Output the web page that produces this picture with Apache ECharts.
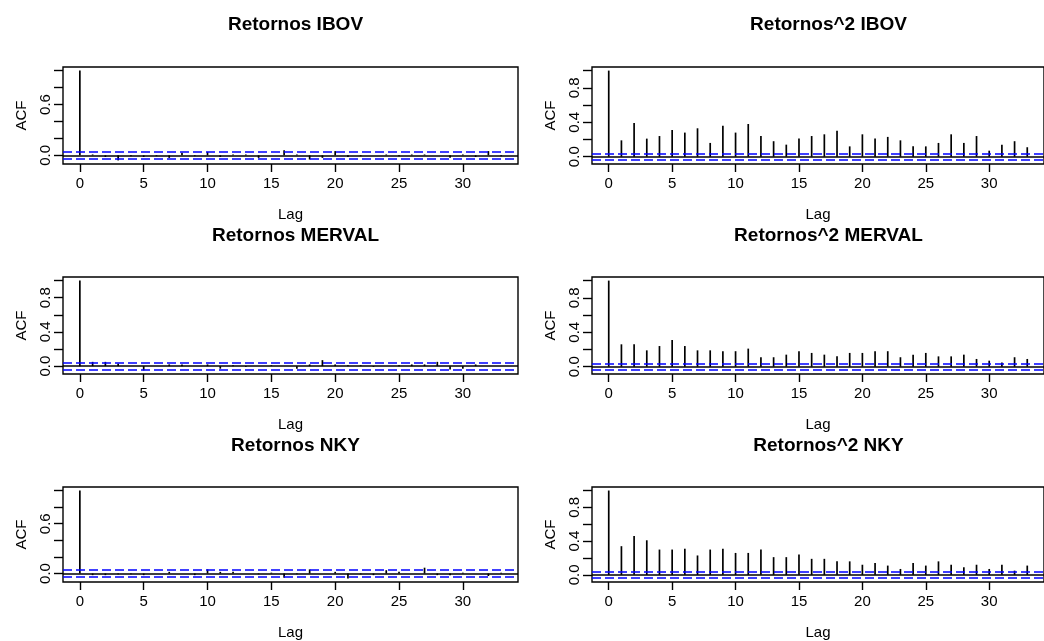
<!DOCTYPE html>
<html>
<head>
<meta charset="utf-8">
<script src="https://cdn.jsdelivr.net/npm/echarts@6/dist/echarts.min.js"></script>
<style>
html,body{margin:0;padding:0;background:#fff;}
#chart{width:1044px;height:641px;}
</style>
</head>
<body>
<div id="chart"></div>
<script>
// ---- data ----
var lags = [0,1,2,3,4,5,6,7,8,9,10,11,12,13,14,15,16,17,18,19,20,21,22,23,24,25,26,27,28,29,30,31,32,33];
var titles = ["Retornos IBOV","Retornos^2 IBOV","Retornos MERVAL","Retornos^2 MERVAL","Retornos NKY","Retornos^2 NKY"];
var acfIbov = [1,0.01,-0.02,-0.06,-0.01,-0.02,-0.01,-0.03,0.03,-0.01,0.04,-0.02,0.01,0.01,-0.03,0.00,0.06,0.01,-0.05,-0.03,0.05,-0.02,-0.01,0.00,0.01,-0.01,0.01,0.01,0.00,-0.03,0.01,-0.02,0.05,-0.01];
var acfIbov2 = [1,0.19,0.39,0.21,0.24,0.31,0.28,0.33,0.16,0.36,0.28,0.38,0.24,0.18,0.14,0.21,0.24,0.26,0.30,0.12,0.26,0.21,0.23,0.19,0.12,0.12,0.16,0.26,0.16,0.24,0.07,0.14,0.18,0.11];
var acfMerval = [1,0.05,0.05,0.03,0.00,-0.05,0.00,0.02,0.02,0.00,0.02,-0.03,0.01,-0.01,0.00,0.01,0.00,-0.03,0.02,0.07,0.02,0.01,0.01,-0.01,0.00,0.01,0.02,0.02,0.05,-0.04,-0.03,0.02,0.00,0.00];
var acfMerval2 = [1,0.26,0.26,0.19,0.24,0.31,0.24,0.19,0.19,0.18,0.18,0.21,0.11,0.11,0.14,0.18,0.16,0.14,0.12,0.16,0.16,0.18,0.18,0.11,0.14,0.16,0.12,0.12,0.14,0.09,0.07,0.05,0.11,0.09];
var acfNky = [1,-0.02,-0.02,-0.01,-0.01,-0.02,0.00,0.02,0.00,-0.02,0.05,0.02,0.02,0.00,-0.01,0.01,-0.05,-0.01,0.05,0.00,0.02,-0.06,-0.01,-0.02,0.04,0.02,0.00,0.07,-0.02,-0.02,0.01,0.00,-0.03,0.01];
var acfNky2 = [1,0.34,0.46,0.41,0.30,0.30,0.31,0.23,0.30,0.31,0.26,0.26,0.30,0.21,0.21,0.24,0.19,0.19,0.16,0.16,0.12,0.14,0.11,0.07,0.14,0.11,0.16,0.12,0.09,0.12,0.07,0.12,0.05,0.11];
var clim = 0.043;
var xTicks = [0,5,10,15,20,25,30];
var yTicks = [0,0.2,0.4,0.6,0.8,1.0];
var yLabelsA = [0,0.6];
var yLabelsB = [0,0.4,0.8];

var panels = [
  {acf: acfIbov,    labels: yLabelsA},
  {acf: acfIbov2,   labels: yLabelsB},
  {acf: acfMerval,  labels: yLabelsB},
  {acf: acfMerval2, labels: yLabelsB},
  {acf: acfNky,     labels: yLabelsA},
  {acf: acfNky2,    labels: yLabelsB}
];

// ---- layout ----
var font = 'Liberation Sans, Arial, sans-serif';
var rowTop = [67, 277, 487];
var gridH = 97;
var colLeft = [63, 592];
var colW = [455, 463];
var titleTop = [10, 221, 431];

var grids = [], xAxes = [], yAxes = [], series = [], titleArr = [];
var xmin = -0.04 * 33, xmax = 33 + 0.04 * 33;

panels.forEach(function(p, i){
  var row = Math.floor(i / 2), col = i % 2;
  var m = Math.min(Math.min.apply(null, p.acf), -clim);
  var r = 1 - m;
  var ymin = m - 0.04 * r, ymax = 1 + 0.04 * r;
  grids.push({left: colLeft[col], top: rowTop[row], width: colW[col], height: gridH,
    show: true, borderColor: '#000', borderWidth: 1.4, backgroundColor: 'transparent'});
  xAxes.push({type: 'value', gridIndex: i, min: xmin, max: xmax,
    name: 'Lag', nameLocation: 'middle', nameGap: 43,
    nameTextStyle: {fontFamily: font, fontSize: 15, color: '#000'},
    axisLine: {show: false, onZero: false},
    axisTick: {show: true, inside: false, length: 8, customValues: xTicks, lineStyle: {color: '#000', width: 1.4}},
    axisLabel: {show: true, customValues: xTicks, margin: 12, fontFamily: font, fontSize: 15, color: '#000'},
    splitLine: {show: false}});
  yAxes.push({type: 'value', gridIndex: i, min: ymin, max: ymax,
    name: 'ACF', nameLocation: 'middle', nameGap: 34, nameRotate: 90,
    nameTextStyle: {fontFamily: font, fontSize: 15, color: '#000'},
    axisLine: {show: false, onZero: false},
    axisTick: {show: true, inside: false, length: 9, customValues: yTicks, lineStyle: {color: '#000', width: 1.4}},
    axisLabel: {show: true, customValues: p.labels, rotate: 90, margin: 10, fontFamily: font, fontSize: 15, color: '#000',
      formatter: function(v){ return v.toFixed(1); }},
    splitLine: {show: false}});
  var data = lags.map(function(l, k){ return [l, p.acf[k]]; });
  series.push({type: 'custom', xAxisIndex: i, yAxisIndex: i, data: data,
    encode: {x: 0, y: 1}, clip: true,
    renderItem: function(params, api){
      var a = api.coord([api.value(0), 0]);
      var b = api.coord([api.value(0), api.value(1)]);
      return {type: 'line', shape: {x1: a[0], y1: a[1], x2: b[0], y2: b[1]},
        style: {stroke: '#000', lineWidth: 1.7}};
    }});
  series.push({type: 'line', xAxisIndex: i, yAxisIndex: i, data: data,
    showSymbol: false, lineStyle: {opacity: 0, width: 0}, silent: true,
    markLine: {silent: true, symbol: ['none', 'none'], label: {show: false},
      data: [
        {yAxis: 0, lineStyle: {color: '#000', type: 'solid', width: 1.6}},
        {yAxis: clim, lineStyle: {color: '#0000ff', type: [9, 4], width: 1.7}},
        {yAxis: -clim, lineStyle: {color: '#0000ff', type: [9, 4], width: 1.7}}
      ]}});
  titleArr.push({text: titles[i], left: colLeft[col] + colW[col] / 2, top: titleTop[row],
    textAlign: 'center',
    textStyle: {fontFamily: font, fontSize: 19, fontWeight: 'bold', color: '#000'}});
});

var chart = echarts.init(document.getElementById('chart'), null, {renderer: 'canvas'});
chart.setOption({
  animation: false,
  backgroundColor: '#fff',
  title: titleArr,
  grid: grids,
  xAxis: xAxes,
  yAxis: yAxes,
  series: series
});
</script>
</body>
</html>
